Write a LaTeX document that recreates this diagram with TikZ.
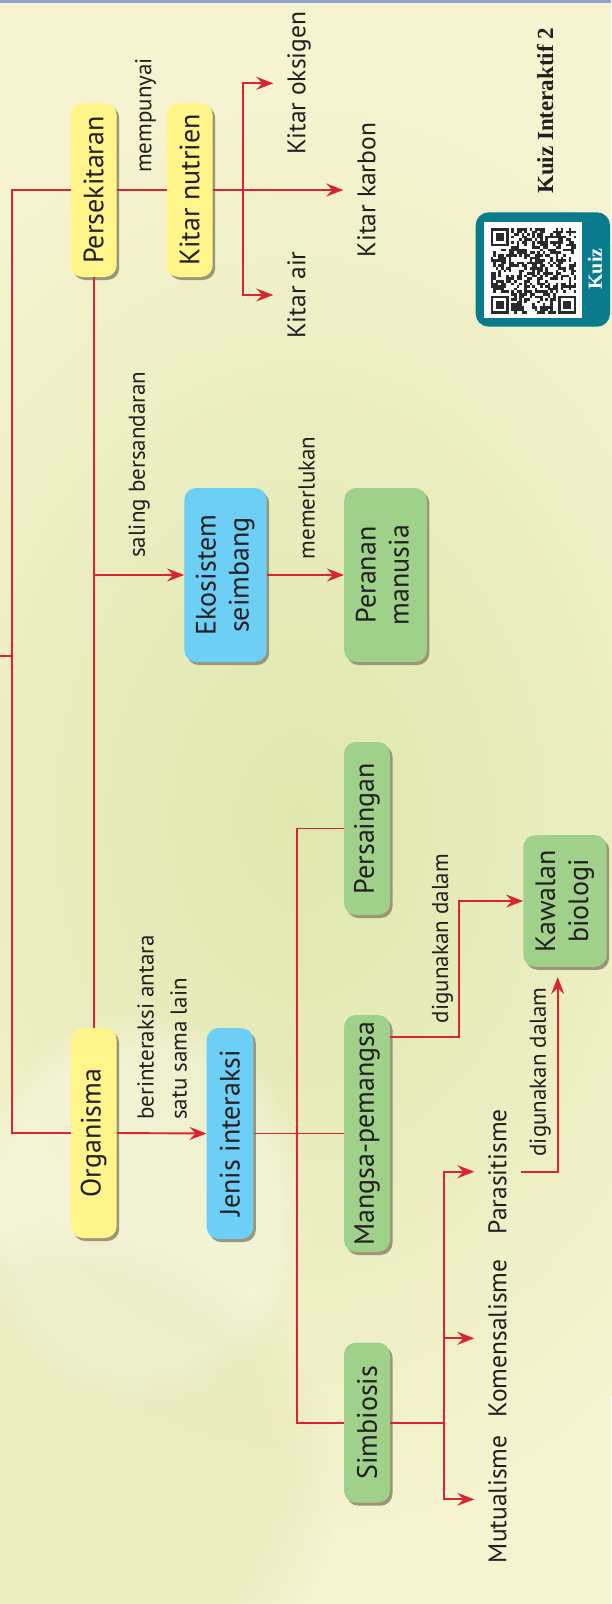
\documentclass[tikz,border=0pt]{standalone}
\usepackage{fontspec}
\usepackage{graphicx}
\setmainfont{PT Sans}
\newfontfamily\quizfont{Liberation Serif}
\usetikzlibrary{arrows.meta,shadows,fadings}

\definecolor{bgbase}{HTML}{F5F3D0}
\definecolor{bggreen}{HTML}{DFE7AE}
\definecolor{linkred}{HTML}{DA2430}
\definecolor{boxyellow}{HTML}{FFF58A}
\definecolor{boxblue}{HTML}{6DCFF6}
\definecolor{boxgreen}{HTML}{A0D18A}
\definecolor{ink}{HTML}{231F20}
\definecolor{shadowc}{HTML}{9C9676}
\definecolor{quizteal}{HTML}{0A7B8C}
\definecolor{qrdark}{HTML}{2A2A2A}
\definecolor{topband}{HTML}{93A4CC}

\newcommand{\vtext}[1]{\rotatebox{90}{#1}}
\newcommand{\vlines}[2]{\rotatebox{90}{\begin{tabular}{@{}#1@{}}#2\end{tabular}}}
\newcommand{\boxfont}{\fontsize{28}{33}\selectfont}
\newcommand{\leaffont}{\fontsize{25.5}{33}\selectfont}
\newcommand{\lblfont}{\fontsize{23}{33}\selectfont}

\tikzset{
  conceptbox/.style={rounded corners=12pt, inner sep=0pt, minimum width=46pt, text=ink, font=\boxfont,
    drop shadow={shadow xshift=2.5pt, shadow yshift=-3pt, fill=shadowc, opacity=1}},
  yellowbox/.style={conceptbox, fill=boxyellow},
  bluebox/.style={conceptbox, fill=boxblue},
  greenbox/.style={conceptbox, fill=boxgreen},
  leaf/.style={inner sep=0pt, outer xsep=14pt, anchor=west, text=ink, font=\leaffont},
  linklabel/.style={inner sep=0pt, anchor=south west, text=ink, font=\lblfont},
  link/.style={draw=linkred, line width=1.9pt},
  linkarrow/.style={link, -{Stealth[length=17pt,width=13pt,inset=6pt]}},
}

\begin{document}
\begin{tikzpicture}[x=1pt,y=-1pt]
  \useasboundingbox (0,0) rectangle (611,1604);
  % background
  \fill[bgbase] (0,0) rectangle (611,1604);
  \shade[inner color=bggreen, outer color=bgbase] (300,820) ellipse [x radius=520, y radius=720];
  \fill[white, opacity=.3, path fading=circle with fuzzy edge 20 percent] (140,1210) ellipse [x radius=170, y radius=200];
  \fill[bggreen!85!olive, opacity=.2, path fading=circle with fuzzy edge 20 percent] (40,1480) ellipse [x radius=300, y radius=260];
  \fill[topband] (0,0) rectangle (611,3);

  % concepts
  \node[yellowbox, minimum height=174pt] (persekitaran) at (93.7,190) {\vtext{Persekitaran}};
  \node[yellowbox, minimum height=174pt] (kitar) at (189.7,190) {\vtext{Kitar nutrien}};
  \node[yellowbox, minimum height=210pt] (organisma) at (93.7,1133) {\vtext{Organisma}};
  \node[bluebox, minimum width=46.6pt, minimum height=211pt] (jenis) at (230,1133.5) {\vtext{Jenis interaksi}};
  \node[bluebox, minimum width=82.4pt, minimum height=174pt] (ekosistem) at (225.5,575) {\vlines{c}{Ekosistem\\seimbang}};
  \node[greenbox, minimum width=82.7pt, minimum height=174pt] (peranan) at (385.5,575) {\vlines{c}{Peranan\\manusia}};
  \node[greenbox, minimum height=173pt] (persaingan) at (367,828.5) {\vtext{Persaingan}};
  \node[greenbox, minimum height=237pt] (mangsa) at (367,1133.5) {\vtext{Mangsa-pemangsa}};
  \node[greenbox, minimum height=160pt] (simbiosis) at (367,1422.7) {\vtext{Simbiosis}};
  \node[greenbox, minimum width=83.4pt, minimum height=131.7pt] (kawalan) at (565,901) {\vlines{c}{Kawalan\\biologi}};

  % branch points
  \coordinate (offpage) at (0,656);
  \coordinate (spine) at (12.3,656);
  \coordinate (cyclebranch) at (242.7,190);
  \coordinate (typebranch) at (296.7,1133.5);
  \coordinate (symbranch) at (444.3,1422.7);

  % leaves
  \node[leaf] (oksigen) at (273.3,83.3) {\vtext{Kitar oksigen}};
  \node[leaf] (karbon) at (343.3,190) {\vtext{Kitar karbon}};
  \node[leaf] (air) at (273.3,295) {\vtext{Kitar air}};
  \node[leaf] (parasit) at (474.3,1171.7) {\vtext{Parasitisme}};
  \node[leaf] (komensal) at (474.3,1338.3) {\vtext{Komensalisme}};
  \node[leaf] (mutual) at (474.3,1499.3) {\vtext{Mutualisme}};

  % link labels
  \node[linklabel] (lblpunya) at (135,173) {\vtext{mempunyai}};
  \node[linklabel] (lblsandar) at (128.3,558) {\vtext{saling bersandaran}};
  \node[linklabel] (lblperlu) at (298.3,559.3) {\vtext{memerlukan}};
  \node[linklabel] (lblantara) at (130.2,1120) {\vlines{l}{berinteraksi antara\\satu sama lain}};
  \node[linklabel] (lblguna) at (431.7,1023.3) {\vtext{digunakan dalam}};
  \node[linklabel] (lblgunab) at (529.5,1156.7) {\vtext{digunakan dalam}};

  % connectors
  \draw[link] (persekitaran.west) -| (spine) |- (organisma.west);
  \draw[link] (offpage) -- (spine);
  \draw[link] (persekitaran.east) -- (kitar.west);
  \draw[linkarrow] (kitar.east) -- (karbon.west);
  \draw[linkarrow] (cyclebranch) |- (oksigen.west);
  \draw[linkarrow] (cyclebranch) |- (air.west);
  \draw[link] (persekitaran.south) -- (organisma.north);
  \draw[linkarrow] (persekitaran.south |- ekosistem.west) -- (ekosistem.west);
  \draw[linkarrow] (ekosistem.east) -- (peranan.west);
  \draw[linkarrow] (organisma.east) -- (jenis.west);
  \draw[link] (jenis.east) -- (mangsa.west);
  \draw[link] (persaingan.west) -| (typebranch) |- (simbiosis.west);
  \draw[link] (simbiosis.east) -- (symbranch);
  \foreach \kind in {parasit,komensal,mutual}
    \draw[linkarrow] (symbranch) |- (\kind.west);
  \draw[linkarrow] ([yshift=96.5pt]mangsa.east) -- ++(69,0) |- (kawalan.west);
  \draw[linkarrow] (parasit.east) -| ([xshift=-7.3pt,yshift=-10pt]kawalan.south);

  % quiz tag
  \fill[quizteal, rounded corners=13pt] (475.7,212.3) rectangle (610,326.7);
  \fill[white] (484,221.7) rectangle (581.7,318.3);
  \pgfmathsetseed{42}
  \foreach \qi in {0,...,32}{
    \foreach \qj in {0,...,32}{
      \pgfmathparse{rnd}
      \ifdim\pgfmathresult pt<0.5pt
        \fill[qrdark] ({490.5+2.6*\qi},{228+2.6*\qj}) rectangle ++(2.6,2.6);
      \fi
    }
  }
  \foreach \fx/\fy in {0/0,0/26,26/26}{
    \fill[white] ({490.5+2.6*(\fx-1)},{228+2.6*(\fy-1)}) rectangle ++(23.4,23.4);
    \fill[qrdark] ({490.5+2.6*\fx},{228+2.6*\fy}) rectangle ++(18.2,18.2);
    \fill[white] ({490.5+2.6*(\fx+1)},{228+2.6*(\fy+1)}) rectangle ++(13,13);
    \fill[qrdark] ({490.5+2.6*(\fx+2)},{228+2.6*(\fy+2)}) rectangle ++(7.8,7.8);
  }
  \node[font=\quizfont\bfseries\fontsize{20}{24}\selectfont, text=white, inner sep=0pt] (kuiztag) at (595,269) {\vtext{Kuiz}};
  \node[font=\quizfont\bfseries\fontsize{23}{28}\selectfont, text=ink, inner sep=0pt, anchor=west] (kuiztitle) at (536.7,110.8) {\vtext{Kuiz Interaktif 2}};
\end{tikzpicture}
\end{document}
